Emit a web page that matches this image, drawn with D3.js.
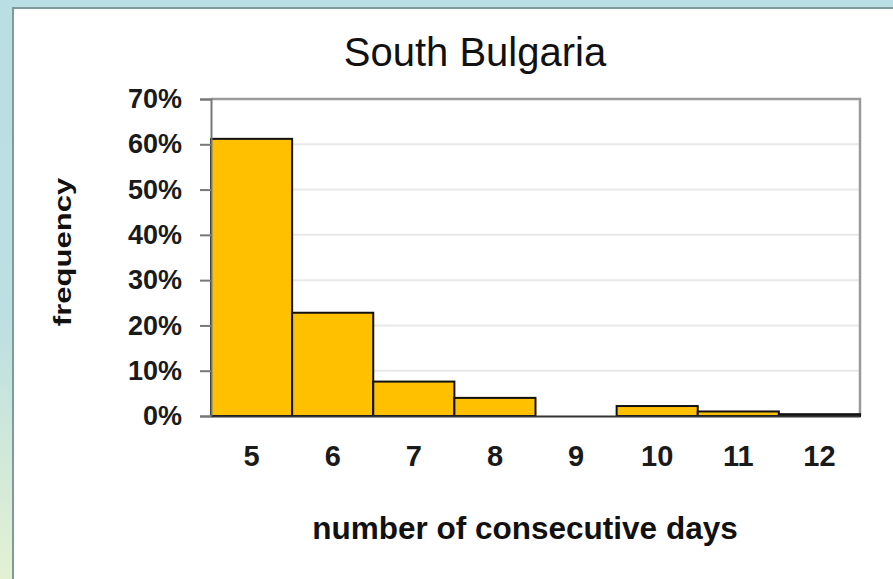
<!DOCTYPE html>
<html>
<head>
<meta charset="utf-8">
<script src="https://cdn.jsdelivr.net/npm/d3@7"></script>
<style>
  html, body { margin: 0; padding: 0; }
  body { width: 893px; height: 579px; overflow: hidden; }
  svg { display: block; font-family: "Liberation Sans", Arial, sans-serif; }
</style>
</head>
<body>
<script>
// Distribution of run lengths (consecutive days) for South Bulgaria
const days = ["5", "6", "7", "8", "9", "10", "11", "12"];
const frequency = [0.612, 0.228, 0.076, 0.040, 0.0, 0.022, 0.010, 0.004];
const yTicks = [0, 0.1, 0.2, 0.3, 0.4, 0.5, 0.6, 0.7];
const chartTitle = "South Bulgaria";
const xTitle = "number of consecutive days";
const yTitle = "frequency";

const W = 893, H = 579;
const svg = d3.select("body").append("svg").attr("width", W).attr("height", H);

// slide-style backdrop
const defs = svg.append("defs");
const bg = defs.append("linearGradient").attr("id", "bg")
  .attr("x1", 0).attr("y1", 0).attr("x2", 0).attr("y2", 1);
bg.append("stop").attr("offset", "0%").attr("stop-color", "#b9dee3");
bg.append("stop").attr("offset", "55%").attr("stop-color", "#bcdfe2");
bg.append("stop").attr("offset", "100%").attr("stop-color", "#e3f1d2");
svg.append("rect").attr("width", W).attr("height", H).attr("fill", "url(#bg)");

// white chart panel
svg.append("rect").attr("x", 13).attr("y", 8).attr("width", W).attr("height", H)
  .attr("fill", "#fff").attr("stroke", "#7f9a9c").attr("stroke-width", 2);

const m = { left: 211, right: 860, top: 99, bottom: 416 };

const x = d3.scaleBand().domain(days).range([m.left, m.right]).padding(0);
const y = d3.scaleLinear().domain([0, 0.7]).range([m.bottom, m.top]);

// gridlines
svg.append("g").selectAll("line").data(yTicks.filter(d => d > 0 && d < 0.7)).join("line")
  .attr("x1", m.left).attr("x2", m.right)
  .attr("y1", d => y(d)).attr("y2", d => y(d))
  .attr("stroke", "#e8e8e8").attr("stroke-width", 2);

// plot frame (top and right)
svg.append("path")
  .attr("d", `M${m.left},${m.top}H${m.right}V${m.bottom}`)
  .attr("fill", "none").attr("stroke", "#9a9a9a").attr("stroke-width", 2.5);

// bars
svg.append("g").selectAll("rect").data(days).join("rect")
  .attr("x", d => x(d))
  .attr("y", (d, i) => y(frequency[i]))
  .attr("width", x.bandwidth())
  .attr("height", (d, i) => y(0) - y(frequency[i]))
  .attr("fill", "#ffc000")
  .attr("stroke", "#111").attr("stroke-width", 2);

// y axis
const yAxis = svg.append("g").attr("transform", `translate(${m.left},0)`)
  .call(d3.axisLeft(y).tickValues(yTicks).tickFormat(d3.format(".0%")).tickSize(11).tickPadding(18));
yAxis.select(".domain").attr("stroke", "#777").attr("stroke-width", 2);
yAxis.selectAll(".tick line").attr("stroke", "#777").attr("stroke-width", 2);
yAxis.selectAll("text").attr("font-size", 27).attr("font-weight", "bold")
  .attr("fill", "#1a1a1a").attr("font-family", "Liberation Sans, Arial, sans-serif");

// x axis
const xAxis = svg.append("g").attr("transform", `translate(0,${m.bottom})`)
  .call(d3.axisBottom(x).tickSize(0).tickPadding(29));
xAxis.select(".domain").attr("stroke", "#333").attr("stroke-width", 2);
xAxis.selectAll("text").attr("font-size", 29).attr("font-weight", "bold")
  .attr("fill", "#1a1a1a").attr("font-family", "Liberation Sans, Arial, sans-serif");

// titles
svg.append("text").attr("x", 475).attr("y", 66).attr("text-anchor", "middle")
  .attr("font-size", 40).attr("fill", "#111").text(chartTitle);
svg.append("text").attr("x", 525).attr("y", 539).attr("text-anchor", "middle")
  .attr("font-size", 31.5).attr("font-weight", "bold").attr("fill", "#111").text(xTitle);
svg.append("text").attr("transform", "translate(71,252) rotate(-90) scale(1.35,1)").attr("text-anchor", "middle")
  .attr("font-size", 23).attr("font-weight", "bold").attr("fill", "#111").text(yTitle);
</script>
</body>
</html>
